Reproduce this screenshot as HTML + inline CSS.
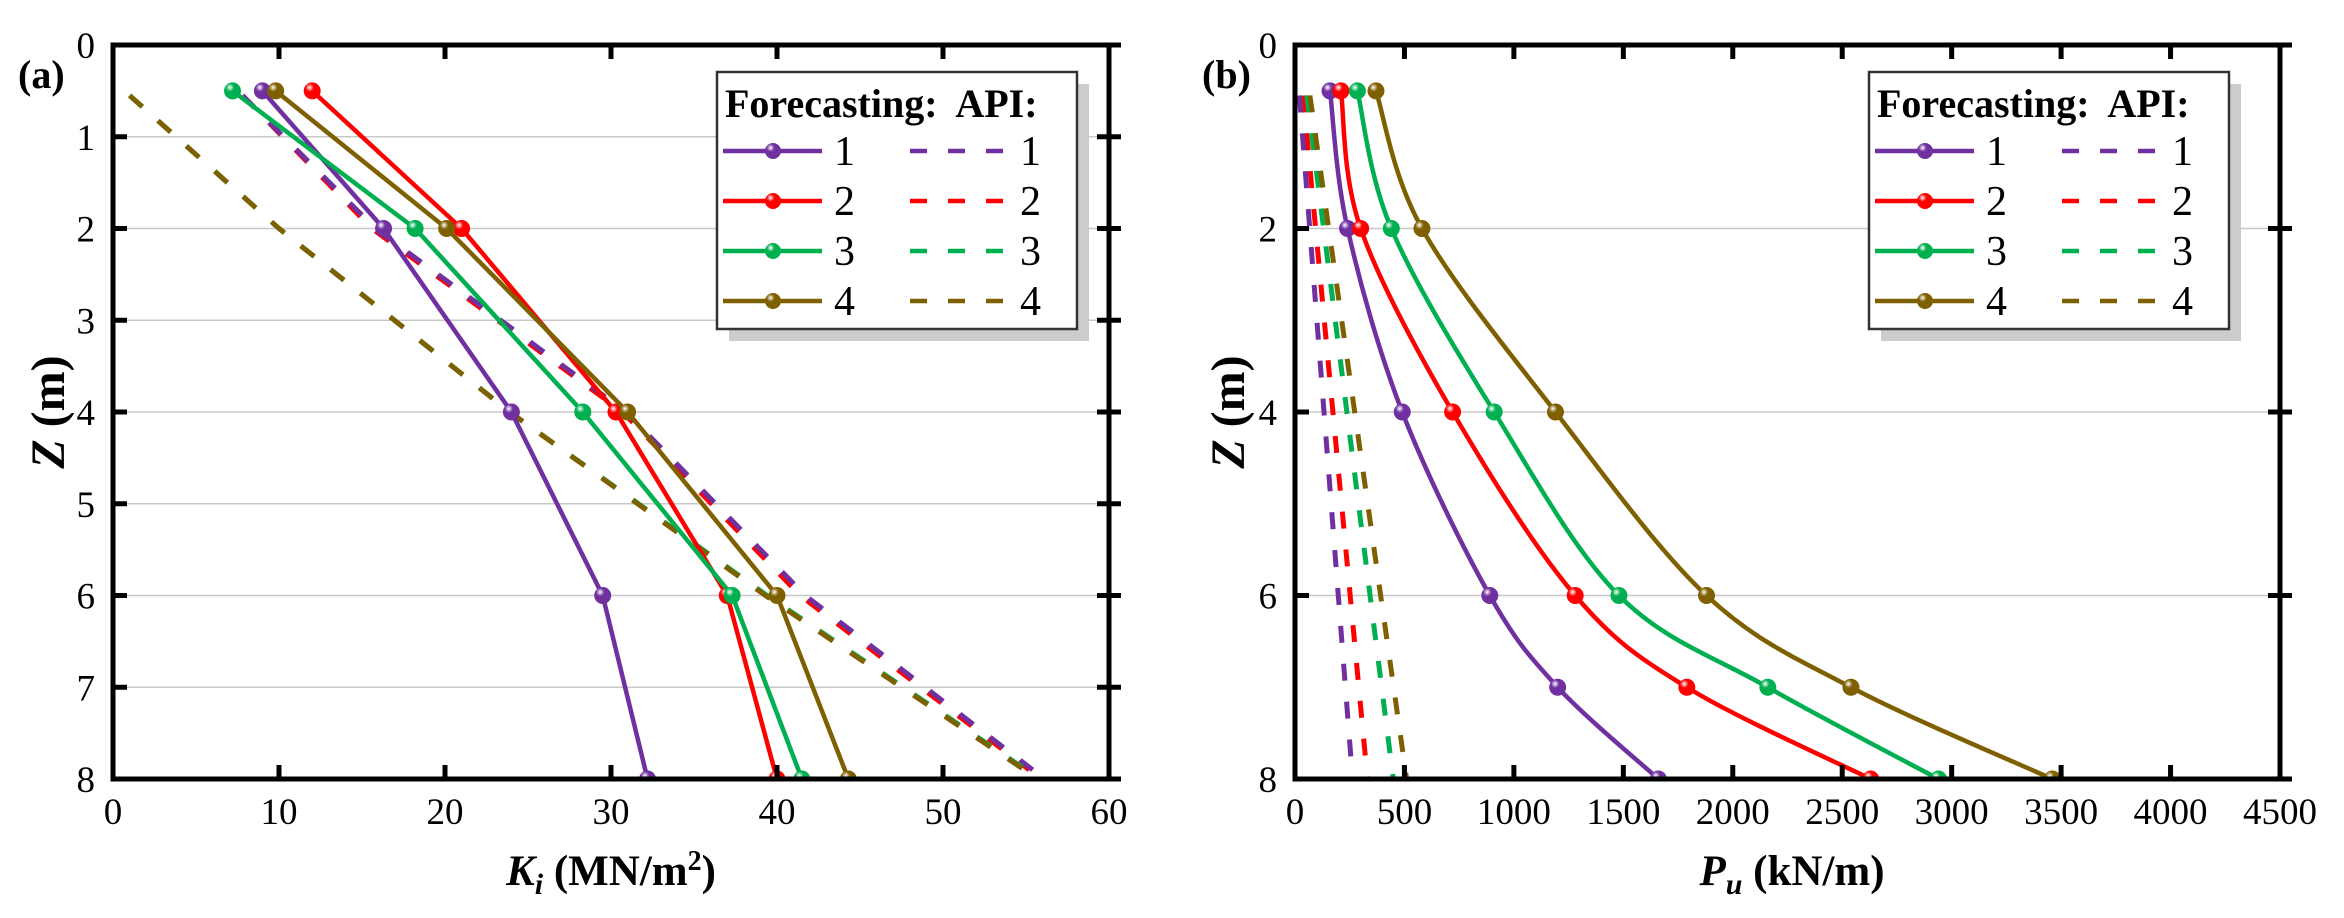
<!DOCTYPE html>
<html><head><meta charset="utf-8"><style>
body{margin:0;background:#fff;}
svg{display:block;font-family:"Liberation Serif",serif;}
</style></head><body>
<svg id="svg" width="2344" height="918" xmlns="http://www.w3.org/2000/svg">
<defs>
<clipPath id="clipA"><rect x="113" y="45" width="996" height="734"/></clipPath>
<clipPath id="clipB"><rect x="1295" y="45" width="985" height="734"/></clipPath>
</defs>
</svg>
<script>
const depthsA=[0.5,2,4,6,8];
const kiF1=[9,16.3,24,29.5,32.2];
const kiF2=[12,21,30.3,37,40];
const kiF3=[7.2,18.2,28.3,37.3,41.5];
const kiF4=[9.8,20.1,31,40,44.3];
const apiDepthsA=[0.55,2,4,6,7.9];
const kiApi1=[7.8,15.8,30.9,41.7,55.4];
const kiApi2=[7.8,15.6,30.7,41.4,55.2];
const kiApi3=[1,10,23.9,39.4,55];
const kiApi4=[1,10,23.9,39.3,54.9];
const depthsB=[0.5,2,4,6,7,8];
const puF1=[160,240,490,890,1200,1660];
const puF2=[210,300,720,1280,1790,2630];
const puF3=[285,440,910,1480,2160,2940];
const puF4=[370,580,1190,1880,2540,3460];
const apiDepthsB=[0.55,8];
const puApi1=[20,263];
const puApi2=[37,331];
const puApi3=[54,449];
const puApi4=[68,510];
const xTicksA=[0,10,20,30,40,50,60];
const yTicksA=[0,1,2,3,4,5,6,7,8];
const xTicksB=[0,500,1000,1500,2000,2500,3000,3500,4000,4500];
const yTicksB=[0,2,4,6,8];
const colors=['#7030a0','#ff0000','#00b050','#7f6000'];
const apiOrder=[1,0,2,3];

const NS='http://www.w3.org/2000/svg';
const svg=document.getElementById('svg');
const defs=svg.querySelector('defs');
function el(tag,attrs,parent){const e=document.createElementNS(NS,tag);for(const k in attrs)e.setAttribute(k,attrs[k]);(parent||svg).appendChild(e);return e;}
colors.forEach((c,i)=>{
  const g=el('radialGradient',{id:'mg'+i,cx:'0.35',cy:'0.3',r:'0.7'},defs);
  el('stop',{offset:'0','stop-color':'#ffffff'},g);
  el('stop',{offset:'0.35','stop-color':c},g);
  el('stop',{offset:'1','stop-color':c},g);
});
function catmull(pts){
  let d='M'+pts[0][0]+','+pts[0][1];
  for(let i=0;i<pts.length-1;i++){
    const p0=pts[i-1]||pts[i],p1=pts[i],p2=pts[i+1],p3=pts[i+2]||p2;
    const c1=[p1[0]+(p2[0]-p0[0])/6,p1[1]+(p2[1]-p0[1])/6];
    const c2=[p2[0]-(p3[0]-p1[0])/6,p2[1]-(p3[1]-p1[1])/6];
    d+=' C'+c1+' '+c2+' '+p2;
  }
  return d;
}
function panel(o){
  const L=o.left,R=o.right,T=45,B=779;
  const sx=v=>L+(v-o.xmin)/(o.xmax-o.xmin)*(R-L);
  const sy=v=>T+v/8*(B-T);
  const g=el('g',{});
  
  
  o.yTicks.forEach(t=>{if(t>0&&t<8){const l=el('line',{x1:L,x2:R,y1:sy(t),y2:sy(t),stroke:'#c8c8c8','stroke-width':1.5},g);
    }});
  const pg=el('g',{'clip-path':'url(#'+o.clip+')'},g);
  apiOrder.forEach(i=>{
    const arr=o.api[i];
    const pts=arr.map((v,j)=>[sx(v),sy(o.apiDepths[j])]);
    const p=el('path',{d:'M'+pts.map(p=>p.join(',')).join(' L'),fill:'none',stroke:colors[i],'stroke-width':5,'stroke-dasharray':'17,21'},pg);
    
  });
  o.fc.forEach((arr,i)=>{
    const pts=o.fit.map((v,j)=>[sx(v[i]),sy(o.fitDepths[j])]);
    const p=el('path',{d:o.smooth?catmull(pts):'M'+pts.map(p=>p.join(',')).join(' L'),fill:'none',stroke:colors[i],'stroke-width':4.5},pg);
    
    arr.forEach((v,j)=>{const c=el('circle',{cx:sx(v),cy:sy(o.depths[j]),r:8.5,fill:'url(#mg'+i+')'},pg);
      });
  });
  const ax=el('rect',{x:L,y:T,width:R-L,height:B-T,fill:'none',stroke:'#000','stroke-width':5},g);
  
  o.xTicks.forEach(t=>{const x=sx(t);
    el('line',{x1:x,x2:x,y1:B,y2:B-14,stroke:'#000','stroke-width':5},g);
    el('line',{x1:x,x2:x,y1:T,y2:T+14,stroke:'#000','stroke-width':5},g);
    const tx=el('text',{x:x,y:824,'font-size':37,'text-anchor':'middle'},g);tx.textContent=t;
    });
  o.yTicks.forEach(t=>{const y=sy(t);
    el('line',{x1:L,x2:L+14,y1:y,y2:y,stroke:'#000','stroke-width':5},g);
    el('line',{x1:R-12,x2:R+12,y1:y,y2:y,stroke:'#000','stroke-width':5},g);
    const tx=el('text',{x:L-18,y:y+13,'font-size':37,'text-anchor':'end'},g);tx.textContent=t;
    });
  const lx=o.legX,ly=72,lw=360,lh=257;
  const lg=el('g',{},g);
  el('rect',{x:lx+12,y:ly+12,width:lw,height:lh,fill:'#cccccc'},lg);
  el('rect',{x:lx,y:ly,width:lw,height:lh,fill:'#fff',stroke:'#333','stroke-width':2.5},lg);
  const tt=el('text',{x:lx+8,y:ly+45,'font-size':40,'font-weight':'bold'},lg);tt.textContent='Forecasting:  API:';
  tt.setAttribute('xml:space','preserve');tt.style.whiteSpace='pre';
  for(let i=0;i<4;i++){const y=ly+79+50*i;
    const e=el('g',{},lg);
    el('line',{x1:lx+6,x2:lx+105,y1:y,y2:y,stroke:colors[i],'stroke-width':4.5},e);
    el('circle',{cx:lx+56,cy:y,r:8,fill:'url(#mg'+i+')'},e);
    const n=el('text',{x:lx+117,y:y+14,'font-size':42},e);n.textContent=i+1;
    el('line',{x1:lx+193,x2:lx+286,y1:y,y2:y,stroke:colors[i],'stroke-width':4.5,'stroke-dasharray':'17,21'},e);
    const n2=el('text',{x:lx+303,y:y+14,'font-size':42},e);n2.textContent=i+1;
  }
  const lab=el('text',{x:o.labX,y:88,'font-size':40,'font-weight':'bold'},g);lab.textContent=o.label;
  
  const xt=el('text',{x:o.xtX,y:885,'font-size':43,'font-weight':'bold','text-anchor':'middle'},g);
  xt.innerHTML=o.xtitle;
  const yt=el('text',{x:0,y:0,'font-size':48,'font-weight':'bold','text-anchor':'middle',transform:'translate('+(o.ytX)+',412) rotate(-90)'},g);
  yt.innerHTML='<tspan font-style="italic">Z</tspan> (m)';
}
panel({name:'panel-a',left:113,right:1109,xmin:0,xmax:60,clip:'clipA',depths:depthsA,fitDepths:depthsA,
  fc:[kiF1,kiF2,kiF3,kiF4],fit:depthsA.map((d,j)=>[kiF1[j],kiF2[j],kiF3[j],kiF4[j]]),smooth:false,
  api:[kiApi1,kiApi2,kiApi3,kiApi4],apiDepths:apiDepthsA,xTicks:xTicksA,yTicks:yTicksA,legX:717,labX:18,label:'(a)',
  xtX:611,xtitle:'<tspan font-style="italic">K</tspan><tspan font-style="italic" font-size="30" dy="9">i</tspan><tspan dy="-9"> (MN/m</tspan><tspan font-size="28" dy="-15">2</tspan><tspan dy="15">)</tspan>',ytX:64});
panel({name:'panel-b',left:1295,right:2280,xmin:0,xmax:4500,clip:'clipB',depths:depthsB,fitDepths:depthsB,
  fc:[puF1,puF2,puF3,puF4],fit:depthsB.map((d,j)=>[puF1[j],puF2[j],puF3[j],puF4[j]]),smooth:true,
  api:[puApi1,puApi2,puApi3,puApi4],apiDepths:apiDepthsB,xTicks:xTicksB,yTicks:yTicksB,legX:1869,labX:1202,label:'(b)',
  xtX:1792,xtitle:'<tspan font-style="italic">P</tspan><tspan font-style="italic" font-size="30" dy="9">u</tspan><tspan dy="-9"> (kN/m)</tspan>',ytX:1244});
</script>
</body></html>
